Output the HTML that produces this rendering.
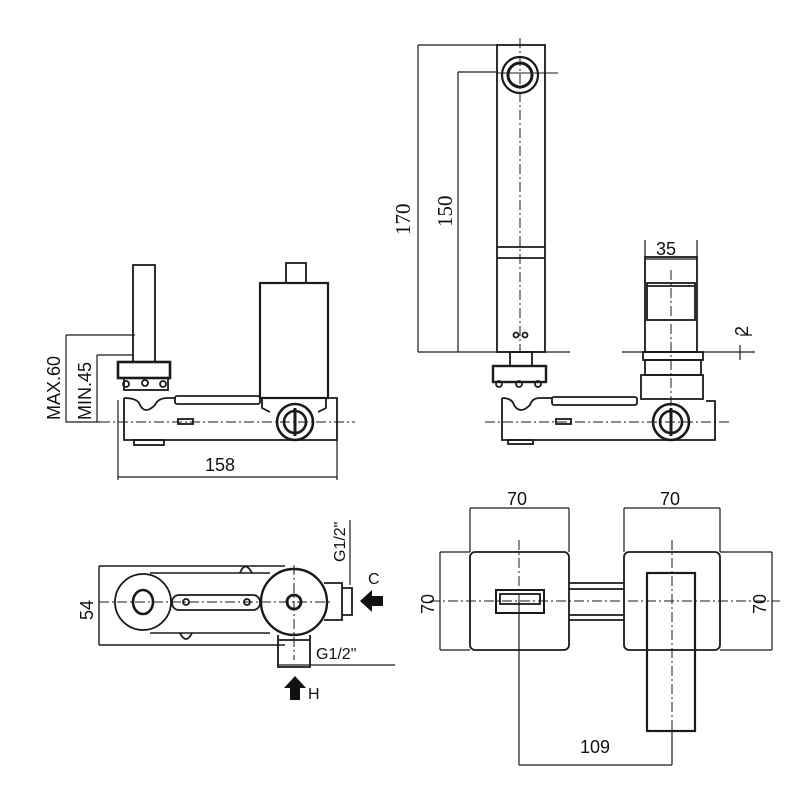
<!DOCTYPE html>
<html><head><style>body{margin:0;background:#fff}svg{display:block}text{font-family:"Liberation Sans",sans-serif;fill:#111}</style></head><body>
<svg width="800" height="800" viewBox="0 0 800 800" xmlns="http://www.w3.org/2000/svg">
<g fill="none" stroke="#1a1a1a" stroke-width="1.8">
<!-- LEFT SIDE VIEW -->
<rect x="133" y="265" width="22" height="97"/>
<rect x="118" y="362" width="52" height="16" stroke-width="2.6"/>
<rect x="124" y="378" width="44" height="12"/>
<circle cx="126" cy="384" r="3"/><circle cx="145" cy="383" r="3"/><circle cx="163" cy="384" r="3"/>
<path d="M124 398 L124 440 L337 440 L337 398 L328 398 M124 398 Q138 398 140 405 Q145 415 155 405 Q158 398 168 398 L175 398"/>
<rect x="175" y="396" width="85" height="8" rx="2"/>
<rect x="260" y="283" width="68" height="115" stroke-width="2.2"/>
<rect x="286" y="263" width="20" height="20"/>
<path d="M262 398 L262 408 L270 412 M326 398 L326 408 L318 412"/>
<circle cx="295" cy="422" r="18" stroke-width="2.6"/>
<circle cx="295" cy="422" r="11" stroke-width="2.6"/>
<line x1="295" y1="408" x2="295" y2="436" stroke-width="3"/>
<rect x="134" y="440" width="30" height="5"/>
<rect x="178" y="419" width="15" height="5"/>
<line x1="100" y1="422" x2="355" y2="422" stroke-width="1" stroke-dasharray="10,3,2,3"/>
<path d="M66 335 L135 335 M66 335 L66 422 L100 422 M97 355 L133 355 M97 355 L97 422" stroke-width="1.2"/>
<path d="M118 400 L118 480 M337 440 L337 480 M118 477 L337 477" stroke-width="1.2"/>

<!-- FRONT VIEW -->
<rect x="497" y="45" width="48" height="307" stroke-width="1.8"/>
<line x1="497" y1="247" x2="545" y2="247"/><line x1="497" y1="258" x2="545" y2="258"/>
<circle cx="520" cy="75" r="18" stroke-width="2.2"/><circle cx="520" cy="75" r="12" stroke-width="3"/>
<line x1="520" y1="38" x2="520" y2="352" stroke-width="1" stroke-dasharray="10,3,2,3"/>
<line x1="497" y1="73" x2="558" y2="73" stroke-width="1"/>
<path d="M418 45 L497 45 M418 45 L418 352 M458 72 L497 72 M458 72 L458 352 M418 352 L570 352" stroke-width="1.2"/>
<circle cx="516" cy="335" r="2.5"/><circle cx="525" cy="335" r="2.5"/>
<rect x="510" y="352" width="22" height="14"/>
<rect x="493" y="366" width="53" height="16" stroke-width="2.4"/>
<circle cx="499" cy="384" r="3"/><circle cx="519" cy="384" r="3"/><circle cx="538" cy="384" r="3"/>
<path d="M502 398 L502 440 L715 440 L715 401 L706 401 M502 398 Q512 398 514 405 Q520 415 530 405 Q532 398 540 398 L552 398"/>
<rect x="552" y="397" width="85" height="8" rx="2"/>
<rect x="508" y="440" width="25" height="4"/>
<rect x="556" y="419" width="15" height="5"/>
<line x1="485" y1="422" x2="730" y2="422" stroke-width="1" stroke-dasharray="10,3,2,3"/>
<circle cx="671" cy="422" r="18" stroke-width="2.6"/><circle cx="671" cy="422" r="11" stroke-width="2.6"/>
<line x1="671" y1="408" x2="671" y2="436" stroke-width="3"/>
<rect x="645" y="257" width="52" height="95" stroke-width="1.8"/>
<rect x="647" y="283" width="48" height="37" stroke-width="1.8"/>
<line x1="647" y1="286" x2="695" y2="286"/>
<line x1="671" y1="270" x2="671" y2="422" stroke-width="1" stroke-dasharray="10,3,2,3"/>
<rect x="643" y="352" width="60" height="8"/>
<rect x="645" y="360" width="56" height="15"/>
<rect x="641" y="375" width="62" height="24"/>
<path d="M622 352 L755 352 M645 259 L697 259 M645 257 L645 240 M697 257 L697 240" stroke-width="1.2"/>
<path d="M740 345 L740 360 M740 335 L752 335" stroke-width="1.2"/>

<!-- BOTTOM LEFT TOP VIEW -->
<path d="M99 566 L285 566 M99 645 L285 645 M99 566 L99 645 M150 573 L270 573 M150 633 L270 633" stroke-width="1.4"/>
<circle cx="143" cy="602" r="28" stroke-width="1.8"/>
<ellipse cx="143" cy="602" rx="10" ry="12" stroke-width="2.6"/>
<rect x="172" y="595" width="88" height="15" rx="7"/>
<circle cx="186" cy="602" r="3"/><circle cx="247" cy="602" r="3"/>
<path d="M240 573 Q245 560 252 573 M180 633 Q186 645 192 633"/>
<circle cx="294" cy="602" r="33" stroke-width="2.4"/>
<circle cx="294" cy="602" r="7" stroke-width="2.8"/>
<path d="M324 583 L342 583 L342 620 L324 620 M342 588 L352 588 L352 615 L342 615"/>
<path d="M278 635 L278 667 L310 667 L310 635 M278 640 L310 640" />
<path d="M350 520 L350 585 M278 665 L395 665" stroke-width="1.2"/>
<line x1="99" y1="602" x2="330" y2="602" stroke-width="1" stroke-dasharray="10,3,2,3"/>
<line x1="294" y1="565" x2="294" y2="660" stroke-width="1" stroke-dasharray="10,3,2,3"/>

<!-- BOTTOM RIGHT FRONT VIEW -->
<rect x="470" y="552" width="99" height="98" rx="5" stroke-width="1.8"/>
<rect x="624" y="552" width="96" height="98" rx="5" stroke-width="1.8"/>
<path d="M569 583 L624 583 M569 589 L624 589 M569 615 L624 615 M569 620 L624 620"/>
<rect x="496" y="590" width="48" height="23" stroke-width="2"/>
<rect x="500" y="594" width="40" height="10"/>
<rect x="647" y="573" width="48" height="158" stroke-width="2.2"/>
<path d="M470 508 L569 508 M470 508 L470 552 M569 508 L569 552 M624 508 L720 508 M624 508 L624 552 M720 508 L720 552" stroke-width="1.2"/>
<path d="M440 552 L470 552 M440 650 L470 650 M440 552 L440 650 M720 552 L772 552 M720 650 L772 650 M772 552 L772 650" stroke-width="1.2"/>
<path d="M519 600 L519 765 M519 765 L672 765 M672 731 L672 765" stroke-width="1.2"/>
<g stroke-width="1" stroke-dasharray="10,3,2,3"><line x1="430" y1="601" x2="780" y2="601"/><line x1="519" y1="540" x2="519" y2="660"/><line x1="672" y1="540" x2="672" y2="740"/></g>
</g>
<polygon points="360,601 372,590 372,596 383,596 383,606 372,606 372,612" fill="#111"/>
<polygon points="295,676 284,688 290,688 290,700 300,700 300,688 306,688" fill="#111"/>
<g font-size="18">
<text transform="translate(60,420) rotate(-90)">MAX.60</text>
<text transform="translate(91,420) rotate(-90)">MIN.45</text>
<text x="205" y="471">158</text>
<text transform="translate(410,235) rotate(-90)" style="font-family:'Liberation Serif',serif" font-size="21">170</text>
<text transform="translate(452,227) rotate(-90)" style="font-family:'Liberation Serif',serif" font-size="21">150</text>
<text x="656" y="255">35</text>
<text transform="translate(748,336) rotate(-90)">2</text>
<text transform="translate(93,620) rotate(-90)">54</text>
<text transform="translate(345,562) rotate(-90)" font-size="16">G1/2"</text>
<text x="368" y="584" font-size="16">C</text>
<text x="316" y="659" font-size="16">G1/2"</text>
<text x="308" y="699" font-size="16">H</text>
<text x="507" y="505">70</text>
<text x="660" y="505">70</text>
<text transform="translate(434,614) rotate(-90)">70</text>
<text transform="translate(766,614) rotate(-90)">70</text>
<text x="580" y="753">109</text>
</g>
</svg>
</body></html>
